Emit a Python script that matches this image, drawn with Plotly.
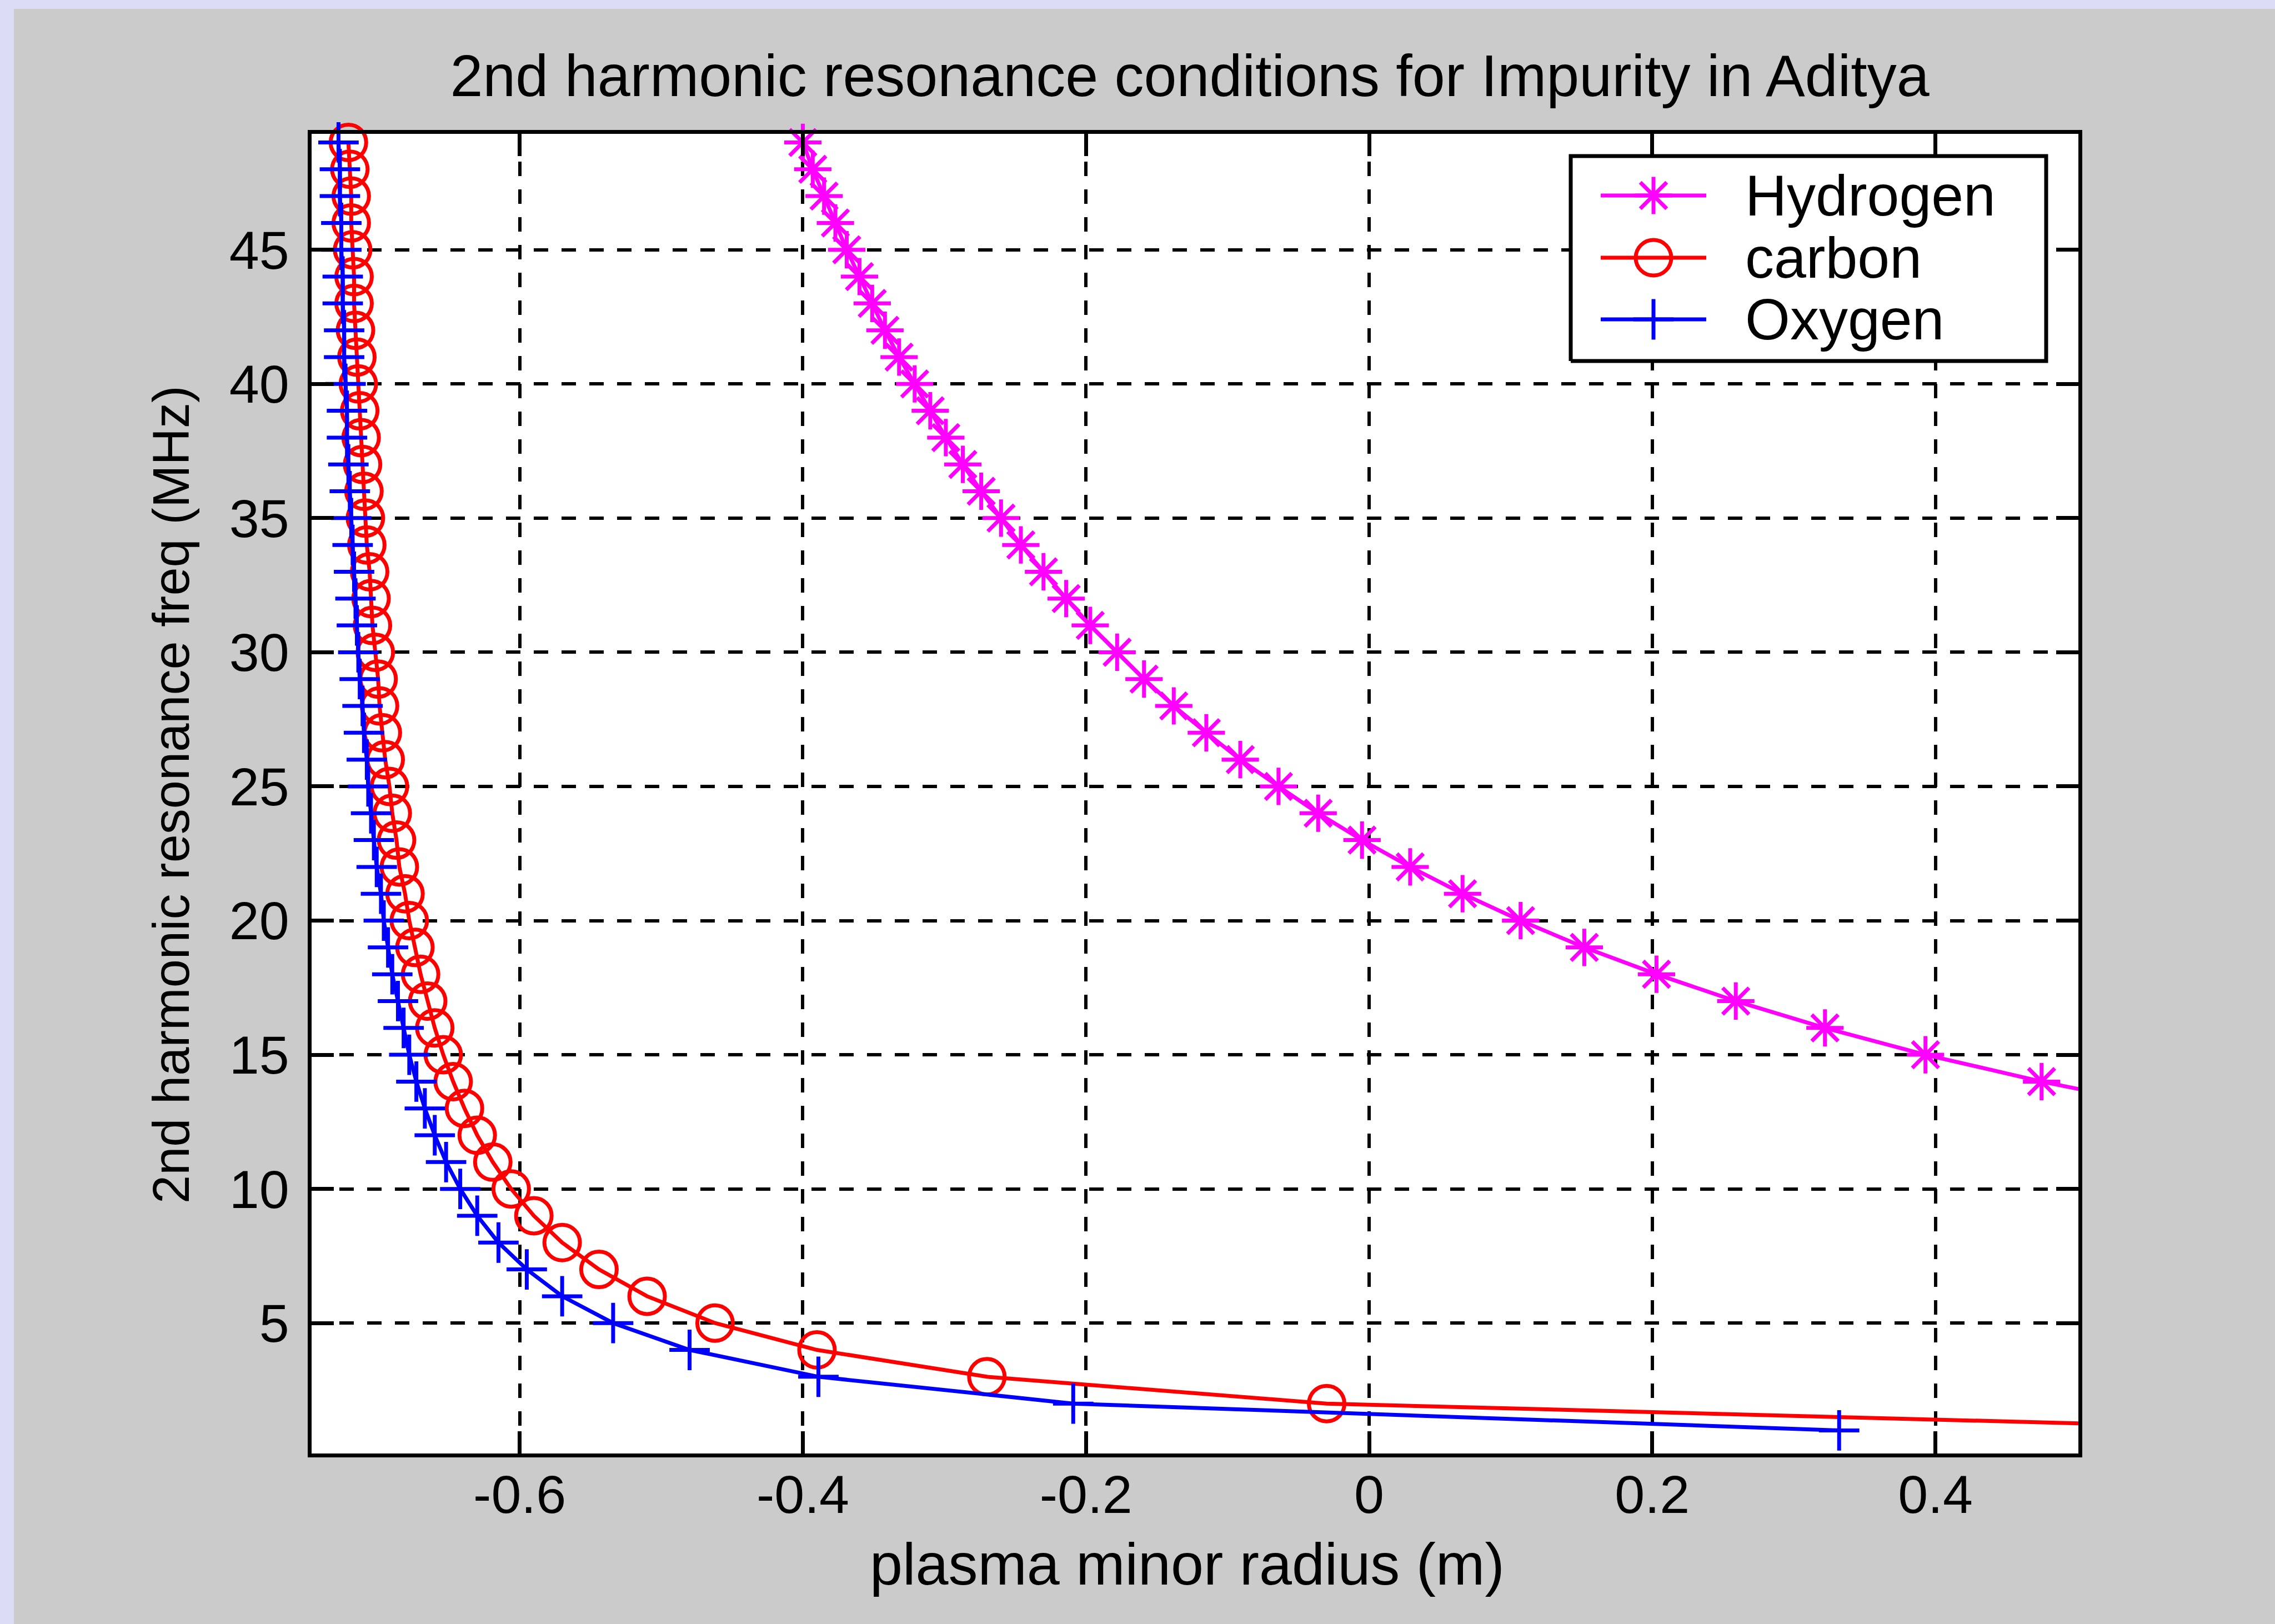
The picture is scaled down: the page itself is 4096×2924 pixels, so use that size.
import plotly.graph_objects as go

# ---------------- data ----------------
title_text = "2nd harmonic resonance conditions for Impurity in Aditya"
x_title = "plasma minor radius (m)"
y_title = "2nd harmonic resonance freq (MHz)"

series_names = ["Hydrogen", "carbon", "Oxygen"]

freq_H = [13, 14, 15, 16, 17, 18, 19, 20, 21, 22, 23, 24, 25, 26, 27, 28, 29, 30, 31,
          32, 33, 34, 35, 36, 37, 38, 39, 40, 41, 42, 43, 44, 45, 46, 47, 48, 49]
radius_H = [0.569, 0.475, 0.393, 0.322, 0.259, 0.203, 0.152, 0.107, 0.066, 0.029,
            -0.005, -0.036, -0.064, -0.091, -0.115, -0.138, -0.159, -0.178, -0.197,
            -0.214, -0.230, -0.246, -0.260, -0.274, -0.287, -0.299, -0.310, -0.321,
            -0.332, -0.342, -0.351, -0.360, -0.369, -0.377, -0.385, -0.393, -0.400]

freq_CO = [1, 2, 3, 4, 5, 6, 7, 8, 9, 10, 11, 12, 13, 14, 15, 16, 17, 18, 19, 20,
           21, 22, 23, 24, 25, 26, 27, 28, 29, 30, 31, 32, 33, 34, 35, 36, 37, 38, 39,
           40, 41, 42, 43, 44, 45, 46, 47, 48, 49]
radius_C = [0.690, -0.030, -0.270, -0.390, -0.462, -0.510, -0.544, -0.570, -0.590,
            -0.606, -0.619, -0.630, -0.639, -0.647, -0.654, -0.660, -0.665, -0.670,
            -0.674, -0.678, -0.681, -0.685, -0.687, -0.690, -0.692, -0.695, -0.697,
            -0.699, -0.700, -0.702, -0.704, -0.705, -0.706, -0.708, -0.709, -0.710,
            -0.711, -0.712, -0.713, -0.714, -0.715, -0.716, -0.717, -0.717, -0.718,
            -0.719, -0.719, -0.720, -0.721]
radius_O = [0.332, -0.209, -0.389, -0.480, -0.534, -0.570, -0.595, -0.615, -0.630,
            -0.642, -0.652, -0.660, -0.667, -0.673, -0.678, -0.682, -0.686, -0.690,
            -0.693, -0.696, -0.698, -0.701, -0.703, -0.705, -0.707, -0.708, -0.710,
            -0.711, -0.713, -0.714, -0.715, -0.716, -0.717, -0.718, -0.719, -0.720,
            -0.721, -0.722, -0.722, -0.723, -0.724, -0.724, -0.725, -0.725, -0.726,
            -0.726, -0.727, -0.727, -0.728]

x_tickvals = [-0.6, -0.4, -0.2, 0, 0.2, 0.4]
x_ticktext = ["-0.6", "-0.4", "-0.2", "0", "0.2", "0.4"]
y_tickvals = [5, 10, 15, 20, 25, 30, 35, 40, 45]
y_ticktext = ["5", "10", "15", "20", "25", "30", "35", "40", "45"]
x_range = [-0.747, 0.501]
y_range = [0.14, 49.32]

# ---------------- styles ----------------
W, H = 4096, 2924
L, R, T, B = 561, 3742, 241, 2617
FONT = "Liberation Sans, Arial, sans-serif"
FS_TICK = 97
FS_TITLE = 106
FS_XLAB = 106
FS_YLAB = 92
FS_LEG = 104
colors = ["#FF00FF", "#FF0000", "#0000FF"]
symbols = ["asterisk-open", "circle-open", "cross-thin-open"]
msizes = [56, 64, 52]
LW = 7


def px_x(p):
    return (p - L) / (R - L)


def px_y(p):
    return (B - p) / (B - T)


fig = go.Figure()
data = [(radius_H, freq_H), (radius_C, freq_CO), (radius_O, freq_CO)]
for i, (xs, ys) in enumerate(data):
    fig.add_trace(go.Scatter(
        x=xs, y=ys, mode="lines+markers", name=series_names[i],
        line=dict(color=colors[i], width=LW),
        marker=dict(symbol=symbols[i], size=msizes[i], color=colors[i],
                    line=dict(width=LW, color=colors[i])),
        cliponaxis=False, showlegend=False))

# ---------------- hand-built legend (overlay axes 0..1) ----------------
bx0, bx1, by0, by1 = px_x(2828), px_x(3684), px_y(650), px_y(281)
fig.add_trace(go.Scatter(
    x=[bx0, bx1, bx1, bx0, bx0], y=[by0, by0, by1, by1, by0],
    mode="lines", fill="toself", fillcolor="white",
    line=dict(color="black", width=7), xaxis="x2", yaxis="y2",
    showlegend=False, hoverinfo="skip"))

leg_rows = [px_y(352), px_y(464), px_y(575)]
leg_x0, leg_x1, leg_xm = px_x(2882), px_x(3072), px_x(2977)
for i, name in enumerate(series_names):
    fig.add_trace(go.Scatter(
        x=[leg_x0, leg_x1], y=[leg_rows[i], leg_rows[i]], mode="lines",
        line=dict(color=colors[i], width=LW), xaxis="x2", yaxis="y2",
        showlegend=False, hoverinfo="skip"))
    fig.add_trace(go.Scatter(
        x=[leg_xm], y=[leg_rows[i]], mode="markers",
        marker=dict(symbol=symbols[i], size=msizes[i], color=colors[i],
                    line=dict(width=LW, color=colors[i])),
        xaxis="x2", yaxis="y2", showlegend=False, hoverinfo="skip",
        cliponaxis=False))
    fig.add_annotation(text=name, xref="paper", yref="paper",
                       x=px_x(3140), y=leg_rows[i], xanchor="left",
                       yanchor="middle", showarrow=False,
                       font=dict(family=FONT, size=FS_LEG, color="black"))

shapes = [
    # lavender frame strips
    dict(type="rect", xref="paper", yref="paper",
         x0=px_x(-10), x1=px_x(25), y0=px_y(H + 10), y1=px_y(-10),
         fillcolor="#DCDCF5", line=dict(width=0), layer="below"),
    dict(type="rect", xref="paper", yref="paper",
         x0=px_x(-10), x1=px_x(W + 10), y0=px_y(16), y1=px_y(-10),
         fillcolor="#DCDCF5", line=dict(width=0), layer="below"),
]

axis_common = dict(
    showline=True, linecolor="black", linewidth=7, mirror="ticks",
    ticks="inside", ticklen=40, tickwidth=7, tickcolor="black",
    showgrid=True, gridcolor="black", gridwidth=6, griddash="26px,24px",
    zeroline=False, tickfont=dict(family=FONT, size=FS_TICK, color="black"),
)

fig.update_layout(
    width=W, height=H,
    margin=dict(l=L, r=W - R, t=T, b=H - B, pad=0, autoexpand=False),
    paper_bgcolor="#CBCBCB", plot_bgcolor="white",
    font=dict(family=FONT, size=FS_TICK, color="black"),
    showlegend=False,
    title=dict(text=title_text, x=px_x(2142), xref="paper", xanchor="center",
               y=1 - 136 / H, yref="container", yanchor="middle",
               font=dict(family=FONT, size=FS_TITLE, color="black")),
    xaxis=dict(range=x_range, tickvals=x_tickvals, ticktext=x_ticktext,
               ticklabelstandoff=-16, **axis_common),
    yaxis=dict(range=y_range, tickvals=y_tickvals, ticktext=y_ticktext,
               ticklabelstandoff=14, **axis_common),
    xaxis2=dict(range=[0, 1], overlaying="x", anchor="y2", visible=False),
    yaxis2=dict(range=[0, 1], overlaying="y", anchor="x2", visible=False),
    shapes=shapes,
)

fig.add_annotation(text=x_title, xref="paper", yref="paper",
                   x=px_x(2137), y=px_y(2816), xanchor="center", yanchor="middle",
                   showarrow=False, font=dict(family=FONT, size=FS_XLAB, color="black"))
fig.add_annotation(text=y_title, xref="paper", yref="paper",
                   x=px_x(308), y=px_y(1431), xanchor="center", yanchor="middle",
                   textangle=-90, showarrow=False,
                   font=dict(family=FONT, size=FS_YLAB, color="black"))

fig.write_html("out.html")
